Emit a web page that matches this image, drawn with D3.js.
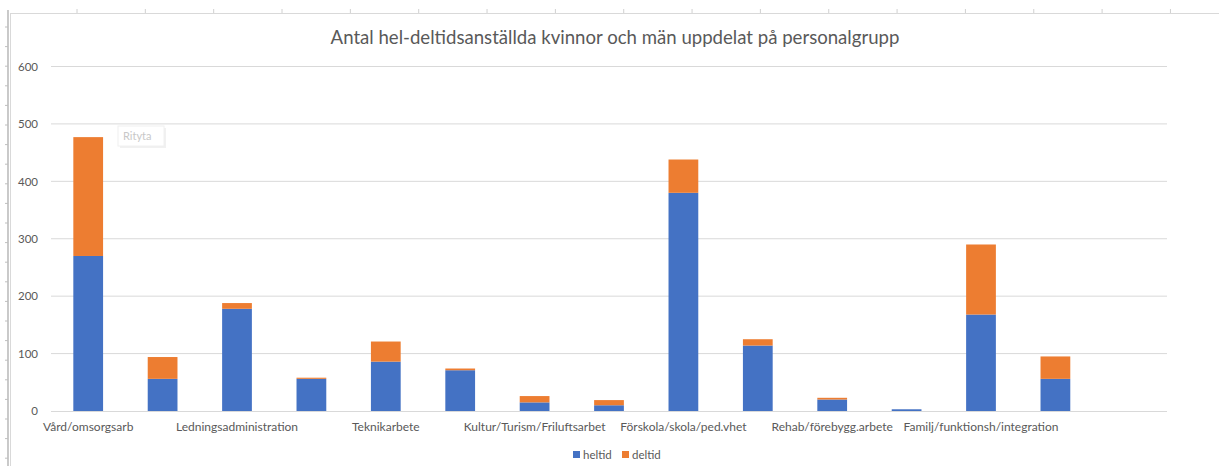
<!DOCTYPE html>
<html>
<head>
<meta charset="utf-8">
<script src="https://cdn.jsdelivr.net/npm/d3@7"></script>
<style>
  html, body { margin: 0; padding: 0; background: #fff; }
  svg { display: block; font-family: Lato, "Open Sans", sans-serif; }
</style>
</head>
<body>
<svg id="chart" width="1219" height="466"></svg>
<script>
// ---- data ----
const title = "Antal hel-deltidsanställda kvinnor och män uppdelat på personalgrupp";
const categories = [
  "Vård/omsorgsarb", "", "Ledningsadministration", "", "Teknikarbete", "",
  "Kultur/Turism/Friluftsarbet", "", "Förskola/skola/ped.vhet", "",
  "Rehab/förebygg.arbete", "", "Familj/funktionsh/integration", "", ""
];
const heltid = [270, 56, 178, 56, 86, 71, 15, 10, 380, 114, 20, 3, 168, 56, 0];
const deltid = [207, 38, 10, 2, 35, 3, 11, 9, 58, 11, 3, 0, 122, 39, 0];
const seriesNames = ["heltid", "deltid"];
const seriesColors = ["#4472C4", "#ED7D31"];
const yTicks = [0, 100, 200, 300, 400, 500, 600];

// ---- layout ----
const svg = d3.select("#chart");
const W = 1219, H = 466;
const plot = { left: 51, right: 1167, top: 66.5, bottom: 411 };

// spreadsheet background marks
const bg = svg.append("g");
bg.append("line").attr("x1", 8).attr("x2", 8).attr("y1", 10).attr("y2", H)
  .attr("stroke", "#a6a6a6").attr("stroke-width", 1.2);
d3.range(27, H, 19.6).forEach(y => {
  bg.append("line").attr("x1", 5).attr("x2", 8).attr("y1", y).attr("y2", y)
    .attr("stroke", "#bfbfbf");
});
d3.range(77, W, 68.34).forEach(x => {
  bg.append("line").attr("x1", x).attr("x2", x).attr("y1", 9).attr("y2", 13)
    .attr("stroke", "#d0d0d0");
});
// chart area border
bg.append("line").attr("x1", 10).attr("x2", W).attr("y1", 13.5).attr("y2", 13.5)
  .attr("stroke", "#d9d9d9");
bg.append("line").attr("x1", 10.5).attr("x2", 10.5).attr("y1", 13).attr("y2", H)
  .attr("stroke", "#d9d9d9");

// scales
const x = d3.scaleBand().domain(d3.range(categories.length))
  .range([plot.left, plot.right]).paddingInner(0.6).paddingOuter(0.3);
const y = d3.scaleLinear().domain([0, 600]).range([plot.bottom, plot.top]);

// gridlines
svg.append("g").selectAll("line").data(yTicks.filter(d => d > 0)).join("line")
  .attr("x1", plot.left).attr("x2", plot.right)
  .attr("y1", d => y(d)).attr("y2", d => y(d))
  .attr("stroke", "#d9d9d9").attr("stroke-width", 1);

// y axis labels
const yAxis = d3.axisLeft(y).tickValues(yTicks).tickSize(0).tickPadding(0);
const gy = svg.append("g").attr("transform", `translate(38,0)`).call(yAxis);
gy.select(".domain").remove();
gy.selectAll("text").attr("fill", "#595959").style("font-size", "11.5px")
  .style("font-family", "Lato, sans-serif");

// stacked bars
const rows = categories.map((c, i) => ({ i, heltid: heltid[i], deltid: deltid[i] }));
const stack = d3.stack().keys(seriesNames)(rows);
svg.append("g").selectAll("g").data(stack).join("g")
  .attr("fill", (d, k) => seriesColors[k])
  .selectAll("rect").data(d => d).join("rect")
  .attr("x", d => x(d.data.i))
  .attr("width", x.bandwidth())
  .attr("y", d => y(d[1]))
  .attr("height", d => Math.max(0, y(d[0]) - y(d[1])));

// x axis
const xAxis = d3.axisBottom(x).tickSize(0).tickPadding(0).tickFormat(i => categories[i]);
const gx = svg.append("g").attr("transform", `translate(0,${plot.bottom})`).call(xAxis);
gx.select(".domain").remove();
gx.selectAll("text").attr("fill", "#595959").attr("y", 20).attr("dy", 0)
  .style("font-size", "12px").style("font-family", "Lato, sans-serif");
svg.append("line").attr("x1", plot.left).attr("x2", plot.right)
  .attr("y1", plot.bottom + 0.5).attr("y2", plot.bottom + 0.5)
  .attr("stroke", "#d9d9d9");

// title
svg.append("text").attr("x", 615).attr("y", 44).attr("text-anchor", "middle")
  .attr("fill", "#595959").style("font-size", "18.6px").text(title);

// legend
const legend = svg.append("g").attr("transform", "translate(573,450)");
const lx = [0, 49];
seriesNames.forEach((n, k) => {
  const g = legend.append("g").attr("transform", `translate(${lx[k]},0)`);
  g.append("rect").attr("width", 7).attr("height", 7).attr("y", 1).attr("fill", seriesColors[k]);
  g.append("text").attr("x", 10).attr("y", 8.5).attr("fill", "#595959")
    .style("font-size", "11.5px").text(n);
});

// "Rityta" tooltip
const tip = svg.append("g").attr("transform", "translate(118,126)");
tip.append("rect").attr("x", 2).attr("y", 2).attr("width", 46).attr("height", 20)
  .attr("fill", "#e8e8e8").attr("opacity", 0.6);
tip.append("rect").attr("width", 46).attr("height", 20).attr("fill", "#fff")
  .attr("stroke", "#f0f0f0");
tip.append("text").attr("x", 5).attr("y", 14).attr("fill", "#c8c8c8")
  .style("font-size", "11px").text("Rityta");
</script>
</body>
</html>
